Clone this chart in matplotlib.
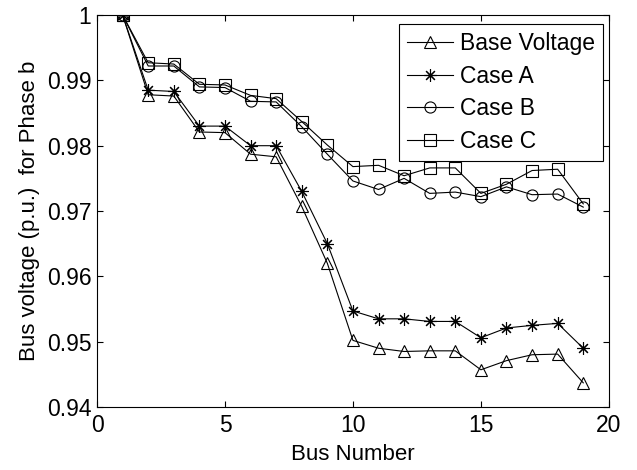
import matplotlib
matplotlib.use('Agg')
import matplotlib.pyplot as plt

plt.rcParams['font.family'] = ['Liberation Sans', 'DejaVu Sans']

bus = list(range(1, 20))

base_voltage = [1.0, 0.9878, 0.9876, 0.9821, 0.9820, 0.9787, 0.9783, 0.9707, 0.9620, 0.9502,
                0.9490, 0.9485, 0.9486, 0.9486, 0.9457, 0.9471, 0.9480, 0.9481, 0.9437]
case_a = [1.0, 0.9885, 0.9883, 0.9830, 0.9830, 0.9800, 0.9800, 0.9730, 0.9650, 0.9547,
          0.9535, 0.9535, 0.9531, 0.9531, 0.9506, 0.9521, 0.9525, 0.9528, 0.9490]
case_b = [1.0, 0.9922, 0.9922, 0.9890, 0.9889, 0.9868, 0.9867, 0.9829, 0.9787, 0.9746,
          0.9733, 0.9750, 0.9727, 0.9729, 0.9722, 0.9737, 0.9725, 0.9726, 0.9706]
case_c = [1.0, 0.9927, 0.9925, 0.9894, 0.9893, 0.9877, 0.9872, 0.9837, 0.9801, 0.9768,
          0.9770, 0.9754, 0.9766, 0.9766, 0.9727, 0.9741, 0.9762, 0.9764, 0.9711]

fig = plt.figure(figsize=(6.37, 4.70), dpi=100)
ax = fig.add_axes([0.1523, 0.134, 0.8035, 0.834])

style = dict(color='black', linewidth=0.8, markerfacecolor='none', markeredgewidth=0.8)
ax.plot(bus, base_voltage, marker='^', markersize=9, label='Base Voltage', **style)
ax.plot(bus, case_a, marker=(8, 2, 0), markersize=9, label='Case A', **style)
ax.plot(bus, case_b, marker='o', markersize=8, label='Case B', **style)
ax.plot(bus, case_c, marker='s', markersize=8, label='Case C', **style)

ax.set_xlim(0, 20)
ax.set_ylim(0.94, 1.0)
ax.set_xticks([0, 5, 10, 15, 20])
ax.set_yticks([0.94, 0.95, 0.96, 0.97, 0.98, 0.99, 1.0])
ax.set_yticklabels(['0.94', '0.95', '0.96', '0.97', '0.98', '0.99', '1'])
ax.tick_params(direction='in', top=True, right=True, length=4, width=0.8, labelsize=16.5)
ax.tick_params(axis='x', pad=5)
ax.tick_params(axis='y', pad=4)
for s in ax.spines.values():
    s.set_linewidth(0.8)

ax.set_xlabel('Bus Number', fontsize=16, labelpad=5)
ax.set_ylabel('Bus voltage (p.u.)  for Phase b', fontsize=16, labelpad=5)

leg = ax.legend(loc='upper right', bbox_to_anchor=(0.988, 0.977), fontsize=16.5,
                fancybox=False, edgecolor='black', framealpha=1, handlelength=2.0,
                borderpad=0.35, labelspacing=0.42, handletextpad=0.3, borderaxespad=0)
leg.get_frame().set_linewidth(0.8)

fig.savefig('out.png', dpi=100)
